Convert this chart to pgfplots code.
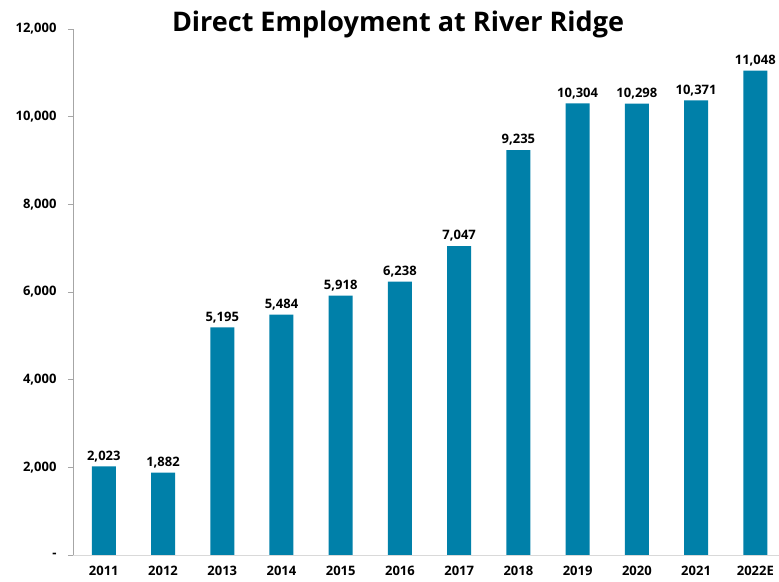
\documentclass[border=0pt]{standalone}
\usepackage{pgfplots}
\pgfplotsset{compat=1.18}
\usepackage{fontspec}
\setmainfont{Open Sans}
\definecolor{barblue}{HTML}{0080A9}
\definecolor{yaxisgray}{HTML}{A6A6A6}
\definecolor{xaxisgray}{HTML}{D9D9D9}
\begin{document}
\begin{tikzpicture}
\useasboundingbox (-73bp,-27bp) rectangle (706bp,555bp);
\begin{axis}[
  at={(0,0)}, anchor=south west,
  scale only axis,
  width=706bp, height=526bp,
  xmin=-0.52, xmax=11.4,
  ymin=0, ymax=12000,
  axis x line*=bottom, axis y line*=left,
  x axis line style={xaxisgray, line width=1pt, -},
  y axis line style={yaxisgray, line width=1pt, -},
  xtick={0,...,11},
  xticklabels={2011,2012,2013,2014,2015,2016,2017,2018,2019,2020,2021,2022E},
  xtick style={draw=none},
  ytick={0,2000,...,12000},
  yticklabels={-,{2,000},{4,000},{6,000},{8,000},{10,000},{12,000}},
  scaled y ticks=false,
  ytick style={yaxisgray, line width=0.8pt},
  tick align=outside,
  major tick length=5bp,
  ticklabel style={font=\fontsize{13bp}{15bp}\selectfont\bfseries},
  yticklabel style={xshift=-8bp},
  xticklabel style={yshift=-3bp},
  /pgf/number format/assume math mode=true,
  /pgf/number format/fixed,
  /pgf/number format/precision=0,
  /pgf/number format/1000 sep={,},
  nodes near coords,
  every node near coord/.append style={font=\fontsize{13bp}{15bp}\selectfont\bfseries, yshift=1bp},
]
\addplot[ybar, bar width=24bp, fill=barblue, draw=none] coordinates {
(0,2023) (1,1882) (2,5195) (3,5484) (4,5918) (5,6238)
(6,7047) (7,9235) (8,10304) (9,10298) (10,10371) (11,11048)
};
\end{axis}
\node[font=\fontsize{27bp}{31bp}\selectfont\bfseries, anchor=base] at (325bp,523bp) {Direct Employment at River Ridge};
\end{tikzpicture}
\end{document}
